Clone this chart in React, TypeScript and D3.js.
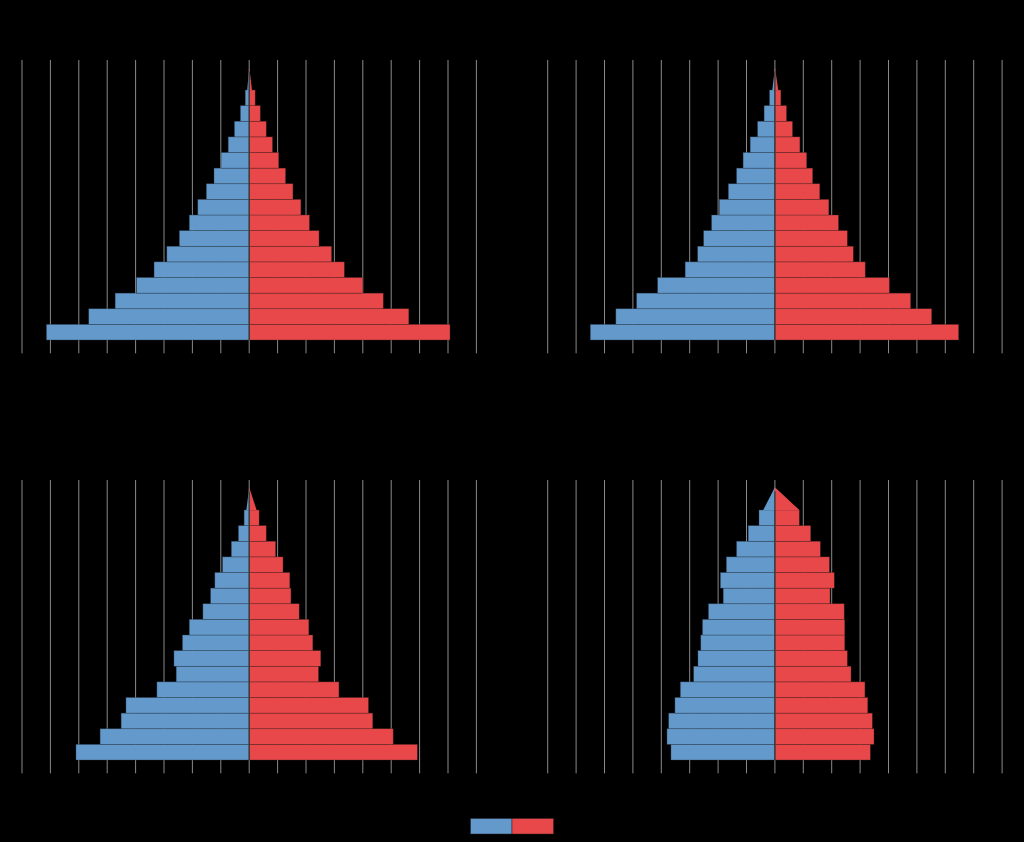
import React from "react";
import * as d3 from "d3";

const ageGroups = ["0-4","5-9","10-14","15-19","20-24","25-29","30-34","35-39","40-44","45-49","50-54","55-59","60-64","65-69","70-74","75-79","80+"];
const ticks = [-8,-7,-6,-5,-4,-3,-2,-1,0,1,2,3,4,5,6,7,8];

const maleA = [7.14,5.65,4.72,3.97,3.35,2.90,2.46,2.11,1.81,1.51,1.24,0.99,0.74,0.52,0.31,0.14,0.07];
const femaleA = [7.07,5.62,4.72,4.00,3.35,2.90,2.46,2.12,1.82,1.54,1.28,1.04,0.82,0.60,0.39,0.21,0.10];
const maleB = [6.50,5.60,4.87,4.13,3.16,2.72,2.51,2.23,1.96,1.64,1.35,1.12,0.87,0.61,0.38,0.19,0.09];
const femaleB = [6.47,5.52,4.78,4.03,3.18,2.76,2.55,2.24,1.90,1.58,1.33,1.12,0.88,0.62,0.41,0.21,0.12];
const maleC = [6.10,5.25,4.51,4.34,3.25,2.57,2.65,2.35,2.11,1.63,1.36,1.21,0.94,0.63,0.38,0.18,0.10];
const femaleC = [5.92,5.07,4.35,4.20,3.16,2.44,2.52,2.24,2.10,1.76,1.47,1.43,1.19,0.93,0.60,0.35,0.26];
const maleD = [3.66,3.80,3.74,3.52,3.33,2.86,2.71,2.61,2.55,2.34,1.82,1.92,1.71,1.35,0.94,0.56,0.41];
const femaleD = [3.36,3.49,3.43,3.27,3.17,2.68,2.55,2.46,2.46,2.44,1.94,2.09,1.92,1.60,1.26,0.86,0.86];

const BLUE = "#6399CB";
const RED = "#E8484A";

type PanelProps = { x0: number; x1: number; y0: number; male: number[]; female: number[] };

function Panel({ x0, x1, y0, male, female }: PanelProps) {
  const x = d3.scaleLinear().domain([-8, 8]).range([x0, x1]);
  const rows = ageGroups.slice(0, 16);
  const y = d3.scaleBand<string>().domain(rows).range([y0 + 280, y0 + 30]).padding(0);
  const bw = y.bandwidth();
  const cx = x(0);
  const topBase = y0 + 30;
  const apex = topBase - bw * 1.45;
  const last = 16;
  return (
    <g>
      {ticks.map((t) => (
        <line key={t} x1={x(t)} x2={x(t)} y1={y0} y2={y0 + 293.3} stroke="#8a8a8a" strokeWidth={1} />
      ))}
      {rows.map((a, i) => (
        <g key={a}>
          <rect x={x(-male[i])} y={y(a)!} width={cx - x(-male[i])} height={bw} fill={BLUE} stroke="#2b3a48" strokeWidth={0.6} strokeOpacity={0.6} />
          <rect x={cx} y={y(a)!} width={x(female[i]) - cx} height={bw} fill={RED} stroke="#4a2222" strokeWidth={0.6} strokeOpacity={0.6} />
        </g>
      ))}
      <path d={`M${cx},${apex}L${x(-male[last])},${topBase}L${cx},${topBase}Z`} fill={BLUE} />
      <path d={`M${cx},${apex}L${x(female[last])},${topBase}L${cx},${topBase}Z`} fill={RED} />
      <line x1={cx} x2={cx} y1={apex + 4} y2={y0 + 280} stroke="#3a3a3a" strokeWidth={1.4} />
    </g>
  );
}

export default function App() {
  React.useEffect(() => {
    document.body.style.margin = "0";
    document.body.style.background = "#000";
  }, []);
  return (
    <svg width={1024} height={842} style={{ position: "absolute", left: 0, top: 0, background: "#000" }}>
      <rect x={0} y={0} width={1024} height={842} fill="#000" />
      <Panel x0={22} x1={476.4} y0={60} male={maleA} female={femaleA} />
      <Panel x0={547.7} x1={1002.1} y0={60} male={maleB} female={femaleB} />
      <Panel x0={22} x1={476.4} y0={480} male={maleC} female={femaleC} />
      <Panel x0={547.7} x1={1002.1} y0={480} male={maleD} female={femaleD} />
      <rect x={470.5} y={818.5} width={41.5} height={15.5} fill={BLUE} stroke="#223" strokeWidth={0.5} />
      <rect x={512} y={818.5} width={41.5} height={15.5} fill={RED} stroke="#322" strokeWidth={0.5} />
    </svg>
  );
}
